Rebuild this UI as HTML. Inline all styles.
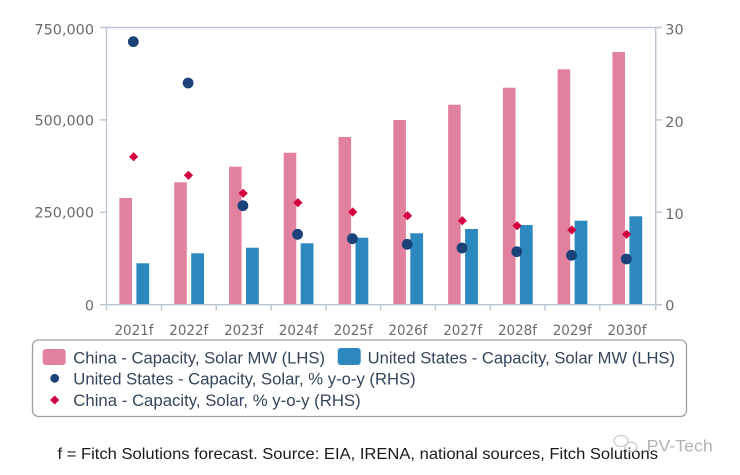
<!DOCTYPE html>
<html>
<head>
<meta charset="utf-8">
<style>
  html,body{margin:0;padding:0;background:#fff;}
  svg{display:block;}
  .ax{font-family:"DejaVu Sans","Liberation Sans",sans-serif;font-size:14.4px;fill:#6a6a6a;}
  .lg{font-family:"Liberation Sans",sans-serif;font-size:16.5px;fill:#34465c;}
  .ft{font-family:"Liberation Sans",sans-serif;font-size:16px;fill:#1a1a1a;}
</style>
</head>
<body>
<svg width="740" height="475" viewBox="0 0 740 475" xmlns="http://www.w3.org/2000/svg">
  <rect width="740" height="475" fill="#fff"/>

  <!-- Bars: China (pink) -->
  <g fill="#e2819d">
    <rect x="119.4" y="198" width="12.6" height="106.7"/>
    <rect x="174.2" y="182.3" width="12.6" height="122.4"/>
    <rect x="229.0" y="166.7" width="12.6" height="138"/>
    <rect x="283.7" y="152.7" width="12.6" height="152"/>
    <rect x="338.5" y="137" width="12.6" height="167.7"/>
    <rect x="393.3" y="120" width="12.6" height="184.7"/>
    <rect x="448.1" y="104.7" width="12.6" height="200"/>
    <rect x="502.9" y="87.7" width="12.6" height="217"/>
    <rect x="557.6" y="69.3" width="12.6" height="235.4"/>
    <rect x="612.4" y="52" width="12.6" height="252.7"/>
  </g>
  <!-- Bars: US (blue) -->
  <g fill="#2e88c0">
    <rect x="136.4" y="263.3" width="12.8" height="41.4"/>
    <rect x="191.2" y="253.3" width="12.8" height="51.4"/>
    <rect x="246.0" y="247.7" width="12.8" height="57"/>
    <rect x="300.7" y="243.3" width="12.8" height="61.4"/>
    <rect x="355.5" y="237.7" width="12.8" height="67"/>
    <rect x="410.3" y="233.3" width="12.8" height="71.4"/>
    <rect x="465.1" y="229" width="12.8" height="75.7"/>
    <rect x="519.9" y="225" width="12.8" height="79.7"/>
    <rect x="574.6" y="220.7" width="12.8" height="84"/>
    <rect x="629.4" y="216.3" width="12.8" height="88.4"/>
  </g>

  <!-- Axes -->
  <g stroke="#bcc6d3" stroke-width="1.4" fill="none">
    <line x1="100" y1="27.5" x2="662" y2="27.5"/>
    <line x1="100" y1="304.7" x2="662" y2="304.7"/>
    <line x1="106.5" y1="27.5" x2="106.5" y2="310.5"/>
    <line x1="655.7" y1="27.5" x2="655.7" y2="310.5"/>
    <line x1="100" y1="119.9" x2="106.5" y2="119.9"/>
    <line x1="100" y1="212.3" x2="106.5" y2="212.3"/>
    <line x1="655.7" y1="119.9" x2="662" y2="119.9"/>
    <line x1="655.7" y1="212.3" x2="662" y2="212.3"/>
    <line x1="161.5" y1="304.7" x2="161.5" y2="310.5"/>
    <line x1="216.3" y1="304.7" x2="216.3" y2="310.5"/>
    <line x1="271.1" y1="304.7" x2="271.1" y2="310.5"/>
    <line x1="325.9" y1="304.7" x2="325.9" y2="310.5"/>
    <line x1="380.6" y1="304.7" x2="380.6" y2="310.5"/>
    <line x1="435.4" y1="304.7" x2="435.4" y2="310.5"/>
    <line x1="490.2" y1="304.7" x2="490.2" y2="310.5"/>
    <line x1="545.0" y1="304.7" x2="545.0" y2="310.5"/>
    <line x1="599.8" y1="304.7" x2="599.8" y2="310.5"/>
  </g>

  <!-- US % y-o-y dots -->
  <g fill="#1b437a">
    <circle cx="133.3" cy="41.7" r="5.4"/>
    <circle cx="188.1" cy="83" r="5.4"/>
    <circle cx="242.9" cy="205.7" r="5.4"/>
    <circle cx="297.6" cy="234.3" r="5.4"/>
    <circle cx="352.4" cy="238.7" r="5.4"/>
    <circle cx="407.2" cy="244.3" r="5.4"/>
    <circle cx="462.0" cy="248" r="5.4"/>
    <circle cx="516.8" cy="251.7" r="5.4"/>
    <circle cx="571.5" cy="255.3" r="5.4"/>
    <circle cx="626.3" cy="259" r="5.4"/>
  </g>

  <!-- China % y-o-y diamonds -->
  <g fill="#d3003d">
    <polygon points="133.6,152.1 138.2,156.7 133.6,161.3 129,156.7"/>
    <polygon points="188.4,170.7 193,175.3 188.4,179.9 183.8,175.3"/>
    <polygon points="243.2,188.7 247.8,193.3 243.2,197.9 238.6,193.3"/>
    <polygon points="297.9,198.1 302.5,202.7 297.9,207.3 293.3,202.7"/>
    <polygon points="352.7,207.4 357.3,212 352.7,216.6 348.1,212"/>
    <polygon points="407.5,211.1 412.1,215.7 407.5,220.3 402.9,215.7"/>
    <polygon points="462.3,216.1 466.9,220.7 462.3,225.3 457.7,220.7"/>
    <polygon points="517.1,221.1 521.7,225.7 517.1,230.3 512.5,225.7"/>
    <polygon points="571.8,225.4 576.4,230 571.8,234.6 567.2,230"/>
    <polygon points="626.6,229.7 631.2,234.3 626.6,238.9 622,234.3"/>
  </g>

  <!-- Left axis labels -->
  <g class="ax" text-anchor="end">
    <text x="94" y="34.6">750,000</text>
    <text x="94" y="125.6">500,000</text>
    <text x="94" y="217.6">250,000</text>
    <text x="94" y="310.6">0</text>
  </g>
  <!-- Right axis labels -->
  <g class="ax">
    <text x="665.3" y="34.6">30</text>
    <text x="665.3" y="127">20</text>
    <text x="665.3" y="219">10</text>
    <text x="665.3" y="310.6">0</text>
  </g>
  <!-- X labels -->
  <g class="ax" text-anchor="middle">
    <text x="134" y="335" textLength="39" lengthAdjust="spacingAndGlyphs">2021f</text>
    <text x="188.8" y="335" textLength="39" lengthAdjust="spacingAndGlyphs">2022f</text>
    <text x="243.6" y="335" textLength="39" lengthAdjust="spacingAndGlyphs">2023f</text>
    <text x="298.3" y="335" textLength="39" lengthAdjust="spacingAndGlyphs">2024f</text>
    <text x="353.1" y="335" textLength="39" lengthAdjust="spacingAndGlyphs">2025f</text>
    <text x="407.9" y="335" textLength="39" lengthAdjust="spacingAndGlyphs">2026f</text>
    <text x="462.7" y="335" textLength="39" lengthAdjust="spacingAndGlyphs">2027f</text>
    <text x="517.5" y="335" textLength="39" lengthAdjust="spacingAndGlyphs">2028f</text>
    <text x="572.2" y="335" textLength="39" lengthAdjust="spacingAndGlyphs">2029f</text>
    <text x="627" y="335" textLength="39" lengthAdjust="spacingAndGlyphs">2030f</text>
  </g>

  <!-- Legend -->
  <rect x="32.5" y="340" width="654" height="76.5" rx="6" ry="6" fill="#fff" stroke="#a0a0a0" stroke-width="1.3"/>
  <rect x="42.7" y="349" width="23" height="16" rx="3" fill="#e2819d"/>
  <text class="lg" x="73.3" y="363.3" textLength="251.7" lengthAdjust="spacingAndGlyphs">China - Capacity, Solar MW (LHS)</text>
  <rect x="337.7" y="348" width="23" height="17" rx="3" fill="#2e88c0"/>
  <text class="lg" x="367.7" y="363.3" textLength="307.3" lengthAdjust="spacingAndGlyphs">United States - Capacity, Solar MW (LHS)</text>
  <circle cx="54.7" cy="378.3" r="4.4" fill="#1b437a"/>
  <text class="lg" x="73.3" y="384.7" textLength="342.4" lengthAdjust="spacingAndGlyphs">United States - Capacity, Solar, % y-o-y (RHS)</text>
  <polygon points="54.7,395.5 59.2,400 54.7,404.5 50.2,400" fill="#d3003d"/>
  <text class="lg" x="73.3" y="406" textLength="287.4" lengthAdjust="spacingAndGlyphs">China - Capacity, Solar, % y-o-y (RHS)</text>

  <!-- Footer -->
  <text class="ft" x="57.5" y="459" textLength="600.5" lengthAdjust="spacingAndGlyphs">f = Fitch Solutions forecast. Source: EIA, IRENA, national sources, Fitch Solutions</text>

  <!-- Watermark -->
  <g stroke="#c4c4c4" stroke-width="1.1" fill="none">
    <ellipse cx="621" cy="441" rx="7" ry="5.5"/>
    <ellipse cx="631" cy="447" rx="6" ry="4.8"/>
  </g>
  <text x="646.7" y="451.7" font-family="Liberation Sans, sans-serif" font-size="17px" fill="#b3b3b3" textLength="66" lengthAdjust="spacingAndGlyphs">PV-Tech</text>
</svg>
</body>
</html>
